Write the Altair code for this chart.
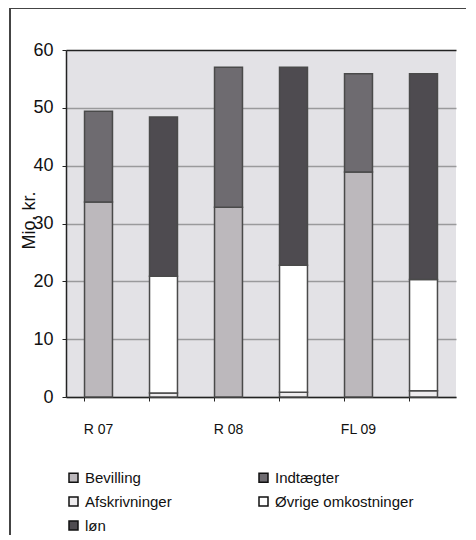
import altair as alt
import pandas as pd

slots = ["R 07", "R 07#", "R 08", "R 08#", "FL 09", "FL 09#"]
series = ["Bevilling", "Indtægter", "Afskrivninger", "Øvrige omkostninger", "løn"]
bevilling = [33.7, 0, 32.8, 0, 38.9, 0]
indtaegter = [15.7, 0, 24.2, 0, 17.0, 0]
afskrivninger = [0, 0.7, 0, 0.8, 0, 1.1]
ovrige = [0, 20.2, 0, 22.0, 0, 19.2]
loen = [0, 27.5, 0, 34.2, 0, 35.6]
colors = ["#bcb8bc", "#6e6b70", "#eeecee", "#ffffff", "#4e4b50"]

rows = []
for k, (name, vals) in enumerate(zip(series, [bevilling, indtaegter, afskrivninger, ovrige, loen])):
    for s, v in zip(slots, vals):
        if v > 0:
            rows.append({"slot": s, "serie": name, "value": v, "ord": k})
df = pd.DataFrame(rows)

bars = alt.Chart(df).mark_bar(stroke="#4a4a4a", strokeWidth=1.5).encode(
    x=alt.X("slot:N", sort=slots,
            scale=alt.Scale(paddingInner=0.57, paddingOuter=0.285),
            axis=alt.Axis(title=None, labelAngle=0, bandPosition=0,
                          labelExpr="indexof(datum.label, '#') >= 0 ? '' : datum.label",
                          labelFont="Liberation Sans", labelFontSize=14, labelColor="#111",
                          labelPadding=21, tickSize=4, tickColor="#222",
                          domainColor="#222", domainWidth=1.5, grid=False)),
    y=alt.Y("value:Q", stack="zero",
            scale=alt.Scale(domain=[0, 60], nice=False),
            axis=alt.Axis(title="Mio. kr.", values=[0, 10, 20, 30, 40, 50, 60],
                          labelFont="Liberation Sans", labelFontSize=18, labelColor="#111",
                          labelPadding=9, tickSize=4, tickColor="#222",
                          domainColor="#222", domainWidth=1.5,
                          gridColor={"condition": {"test": "datum.value === 60", "value": "#222"}, "value": "#9a9a9c"},
                          gridWidth=1.3,
                          titleFont="Liberation Sans", titleFontSize=18, titleFontWeight="normal",
                          titleColor="#111", titleX=-37, titleY=170, titleAngle=270,
                          titleAlign="center", titleBaseline="middle")),
    color=alt.Color("serie:N", scale=alt.Scale(domain=series, range=colors),
                    legend=alt.Legend(title=None, orient="none", legendX=0, legendY=420,
                                      direction="horizontal",
                                      columns=2, columnPadding=84, rowPadding=8,
                                      symbolType="square", symbolSize=81,
                                      symbolStrokeColor="#111", symbolStrokeWidth=1.5,
                                      symbolOffset=0, labelOffset=4,
                                      labelFont="Liberation Sans", labelFontSize=15,
                                      labelColor="#111", labelLimit=300)),
    order=alt.Order("ord:Q"),
)

frame_left = alt.Chart(df).mark_rule(color="#444", strokeWidth=1).encode(
    x=alt.value(-56), y=alt.value(-41.5), y2=alt.value(490))
frame_top = alt.Chart(df).mark_rule(color="#444", strokeWidth=1).encode(
    x=alt.value(-56), x2=alt.value(420), y=alt.value(-41.5))

chart = alt.layer(bars, frame_left, frame_top).properties(
    width=390, height=347,
    background="white",
    autosize=alt.AutoSizeParams(type="none"),
    padding={"left": 58, "top": 42, "right": 10, "bottom": 138},
).configure_view(stroke=None, fill="#e3e2e6")

chart.save("out.html", embed_options={"renderer": "svg", "actions": False})
